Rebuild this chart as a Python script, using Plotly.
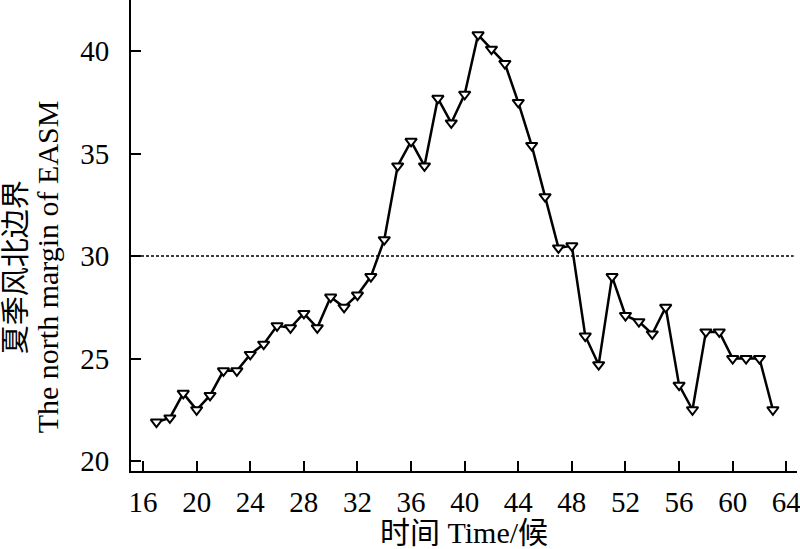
import plotly.graph_objects as go

pentad = list(range(17, 64))
margin_lat = [21.9, 22.1, 23.3, 22.5, 23.2, 24.4, 24.4, 25.2, 25.7, 26.6,
              26.5, 27.2, 26.5, 28.0, 27.5, 28.1, 29.0, 30.8, 34.4, 35.6,
              34.4, 37.7, 36.5, 37.9, 40.8, 40.1, 39.4, 37.5, 35.4, 32.9,
              30.4, 30.5, 26.1, 24.7, 29.0, 27.1, 26.8, 26.2, 27.5, 23.7,
              22.5, 26.3, 26.3, 25.0, 25.0, 25.0, 22.5]
threshold = 30
x_ticks = list(range(16, 65, 4))
y_ticks = [20, 25, 30, 35, 40]

FONT = "Liberation Serif, Times New Roman, Noto Sans CJK SC, serif"

fig = go.Figure()
fig.add_trace(go.Scatter(
    x=pentad, y=margin_lat, mode="lines+markers",
    line=dict(color="black", width=2.5),
    marker=dict(symbol="triangle-down", size=10, color="white",
                line=dict(color="black", width=2)),
    showlegend=False, cliponaxis=False,
))
fig.add_shape(type="line", xref="paper", yref="y", x0=0, x1=0.995,
              y0=threshold, y1=threshold,
              line=dict(color="black", width=1.5, dash="3px,2px"))

fig.update_layout(
    width=800, height=549,
    margin=dict(l=131, r=3, t=0, b=78, autoexpand=False),
    plot_bgcolor="white", paper_bgcolor="white",
    font=dict(family=FONT, size=29, color="black"),
    xaxis=dict(range=[15.1, 64.8], tickvals=x_ticks, ticks="inside",
               ticklen=10, tickwidth=1.5, tickcolor="black",
               showline=True, linecolor="black", linewidth=2,
               showgrid=False, zeroline=False, automargin=False,
               ticklabeloverflow="allow", ticklabelstandoff=4,
               title=dict(text="时间 Time/候", font=dict(size=30), standoff=15)),
    yaxis=dict(range=[19.51, 42.5], tickvals=y_ticks, ticks="inside",
               ticklen=10, tickwidth=1.5, tickcolor="black",
               showline=True, linecolor="black", linewidth=2,
               showgrid=False, zeroline=False, automargin=False,
               ticklabeloverflow="allow", ticklabelstandoff=14),
    annotations=[
        dict(text="夏季风北边界", xref="paper", yref="paper",
             x=-0.1725, y=0.433, textangle=-90, showarrow=False,
             xanchor="center", yanchor="middle", font=dict(size=29)),
        dict(text="The north margin of EASM", xref="paper", yref="paper",
             x=-0.125, y=0.434, textangle=-90, showarrow=False,
             xanchor="center", yanchor="middle", font=dict(size=30)),
    ],
)
fig.write_html("out.html", config={"displayModeBar": False},
               post_script="document.body.style.margin='0';document.body.style.overflow='hidden';")
